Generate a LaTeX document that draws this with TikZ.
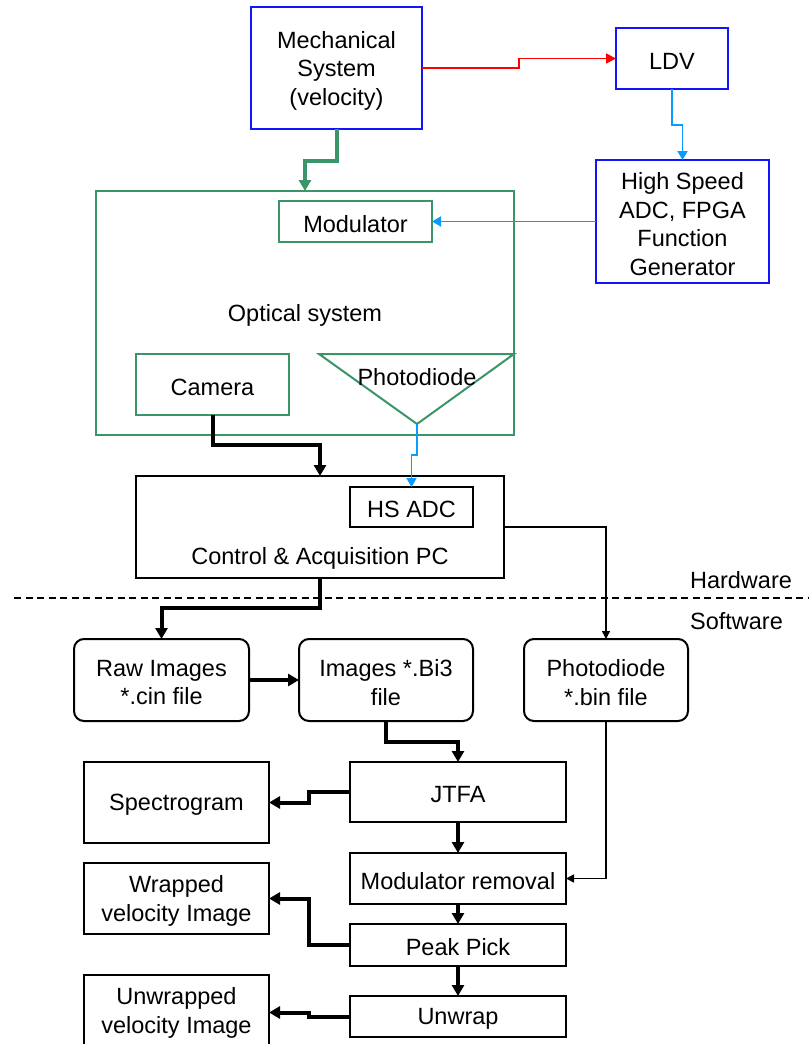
\documentclass[tikz,border=0pt]{standalone}
\usepackage{fontspec}
\setmainfont{Liberation Sans}
\usetikzlibrary{arrows.meta}
\definecolor{myblue}{RGB}{20,20,250}
\definecolor{mygreen}{RGB}{58,150,104}
\definecolor{lblue}{RGB}{10,155,255}
\definecolor{myred}{RGB}{255,0,0}
\newcommand{\fs}{\fontsize{23.5}{28.5}\selectfont}
\tikzset{
  box/.style={draw, line width=2pt, inner sep=0pt, outer sep=0pt},
  bbox/.style={box, draw=myblue},
  gbox/.style={box, draw=mygreen},
  rbox/.style={box, rounded corners=10pt},
  lbl/.style={inner sep=0pt, align=center, font=\fs},
  thickarr/.style={line width=4pt, -{Triangle[length=11pt,width=12pt]}},
  thinarr/.style={line width=1.5pt, -{Triangle[length=8pt,width=8pt]}},
  greenarr/.style={draw=mygreen, line width=4pt, -{Triangle[length=11pt,width=12pt]}},
  bluearr/.style={draw=lblue, line width=1.8pt, -{Triangle[length=9pt,width=10pt]}},
  redarr/.style={draw=myred, line width=1.8pt, -{Triangle[length=10pt,width=10pt]}},
}
% name, position, width, height, style, text
\newcommand{\bx}[6]{\node[#5, minimum width=#3, minimum height=#4] (#1) at (#2) {};
  \node[lbl] (#1t) at ([yshift=-2.5pt]#1.center) {#6};}
\begin{document}
\begin{tikzpicture}[x=1pt,y=-1pt]
\useasboundingbox (0,0) rectangle (809,1044);
\clip (0,0) rectangle (809,1044);
% hardware
\bx{mech}{336.5,68}{171pt}{122pt}{bbox}{Mechanical\\System\\(velocity)}
\bx{ldv}{672,58.5}{112pt}{61pt}{bbox}{LDV}
\bx{hs}{682.5,221.5}{173pt}{123pt}{bbox}{High Speed\\ADC, FPGA\\Function\\Generator}
\bx{opt}{305,313}{418pt}{244pt}{gbox,line width=2.5pt}{Optical system}
\bx{mod}{355.5,221.5}{153pt}{41pt}{gbox}{Modulator}
\bx{cam}{212.5,384.5}{153pt}{61pt}{gbox}{Camera}
\coordinate (triL) at (319,354);
\coordinate (triR) at (514,354);
\coordinate (pdA) at (417,424);
\draw[mygreen, line width=2pt, line join=miter] (triL) -- (triR) -- (pdA) -- cycle;
\node[lbl] (pdtxt) at (417,377) {Photodiode};
\node[box, minimum width=368pt, minimum height=102pt] (pc) at (320,527) {};
\node[lbl] (pctxt) at (320,558) {Control \& Acquisition PC};
\bx{hsadc}{411.5,507}{123pt}{40pt}{box}{HS ADC}
% divider
\coordinate (dl) at (14,598);
\coordinate (dr) at (809,598);
\draw[line width=1.6pt, dash pattern=on 7pt off 4.5pt] (dl) -- (dr);
\node[lbl] (hw) at (741,580) {Hardware};
\node[lbl] (sw) at (736.5,621) {Software};
% software
\bx{raw}{161.5,680}{175pt}{82pt}{rbox}{Raw Images\\*.cin file}
\bx{bi3}{386,680}{174pt}{82pt}{rbox}{Images *.Bi3\\file}
\bx{pdbin}{606,680}{164pt}{82pt}{rbox}{Photodiode\\*.bin file}
\bx{jtfa}{458,792}{216pt}{60pt}{box}{JTFA}
\bx{spec}{176.5,802.5}{185pt}{81pt}{box}{Spectrogram}
\bx{modrem}{458,878.5}{216pt}{51pt}{box}{Modulator removal}
\bx{peak}{458,945}{216pt}{42pt}{box}{Peak Pick}
\bx{unwrap}{458,1016.5}{216pt}{41pt}{box}{Unwrap}
\bx{wrap}{176.5,898.5}{185pt}{71pt}{box}{Wrapped\\velocity Image}
\node[box, minimum width=185pt, minimum height=75pt] (unwr) at (176.5,1012.5) {};
\node[lbl] (unwrt) at (176.5,1013) {Unwrapped\\velocity Image};
% connectors
\draw[redarr] (mech.east) -- (519,68) -- (519,58.5) -- (ldv.west);
\draw[bluearr] (ldv.south) -- (672,125) -- (682.5,125) -- (hs.north);
\draw[bluearr] (hs.west) -- (mod.east);
\draw[greenarr] (mech.south) -- (336.5,161) -- (305,161) -- (opt.north);
\draw[thickarr] (cam.south) -- (212.5,445) -- (320,445) -- (pc.north);
\draw[bluearr] (pdA) -- (417,455) -- (411.5,455) -- (hsadc.north);
\draw[thinarr] (pc.east) -- (606,527) -- (pdbin.north);
\draw[thickarr] (pc.south) -- (320,608) -- (161.5,608) -- (raw.north);
\draw[thickarr] (raw.east) -- (bi3.west);
\draw[thickarr] (bi3.south) -- (386,742) -- (458,742) -- (jtfa.north);
\draw[thickarr] (jtfa.west) -- (309,792) -- (309,802.5) -- (spec.east);
\draw[thickarr] (jtfa.south) -- (modrem.north);
\draw[thinarr] (pdbin.south) -- (606,878.5) -- (modrem.east);
\draw[thickarr] (modrem.south) -- (peak.north);
\draw[thickarr] (peak.west) -- (309,945) -- (309,898.5) -- (wrap.east);
\draw[thickarr] (peak.south) -- (unwrap.north);
\draw[thickarr] (unwrap.west) -- (309,1016.5) -- (309,1012.5) -- (unwr.east);
\end{tikzpicture}
\end{document}
